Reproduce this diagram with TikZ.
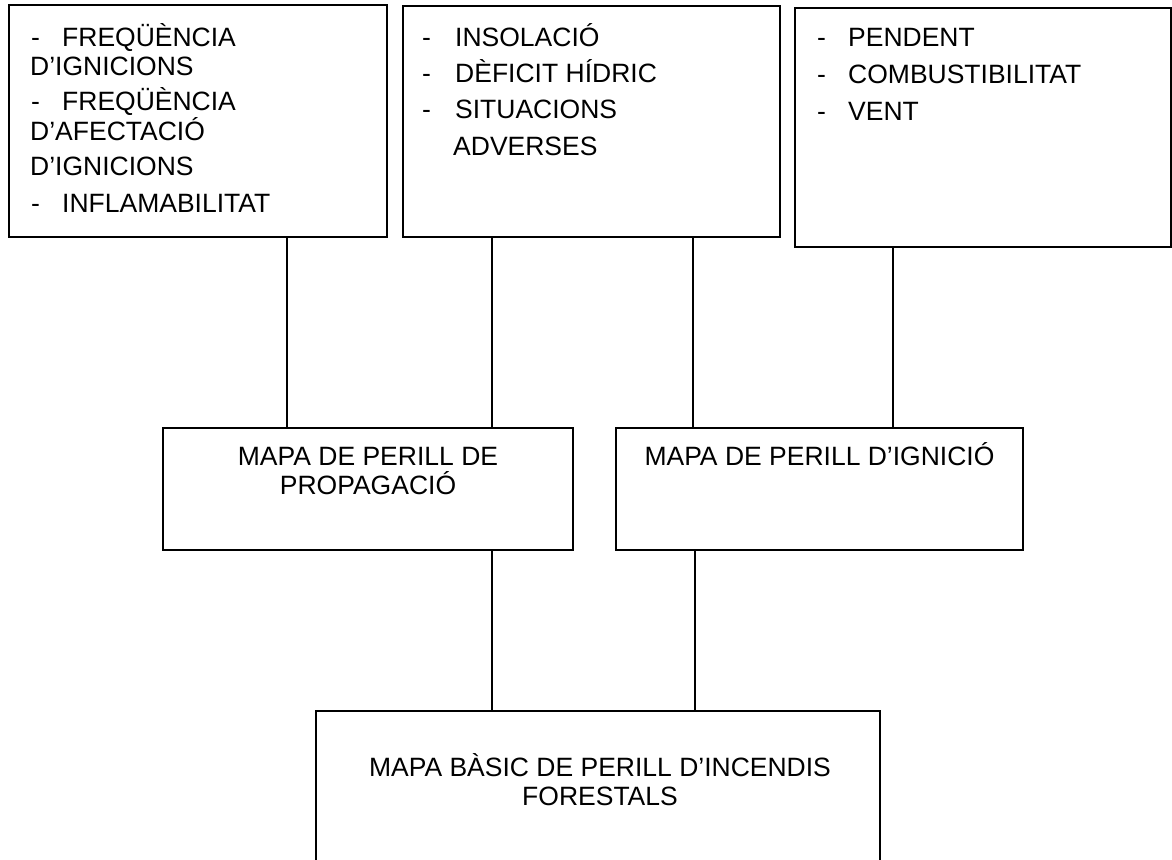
\documentclass[tikz,border=0pt]{standalone}
\usepackage{fontspec}
\setmainfont{Liberation Sans}
\begin{document}
\begin{tikzpicture}[x=1pt,y=-1pt]
\tikzset{
  box/.style={draw,line width=1.4pt,inner sep=0pt,outer sep=0pt},
  txt/.style={anchor=base west,inner sep=0pt,font=\fontsize{26.5}{30}\selectfont},
  ctxt/.style={anchor=base,inner sep=0pt,font=\fontsize{26.5}{30}\selectfont},
  link/.style={line width=1.4pt}
}
\useasboundingbox (0,0) rectangle (1172,859);
\clip (0,0) rectangle (1172,859);
% boxes
\node[box,minimum width=378pt,minimum height=232pt] (b1) at (198,121) {};
\node[box,minimum width=377pt,minimum height=231pt] (b2) at (591.5,121.5) {};
\node[box,minimum width=376pt,minimum height=239pt] (b3) at (983,127.5) {};
\node[box,minimum width=410pt,minimum height=122pt] (m1) at (368,489) {};
\node[box,minimum width=407pt,minimum height=122pt] (m2) at (819.5,489) {};
\node[box,minimum width=564pt,minimum height=300pt] (bb) at (598,861) {};
% texts box 1
\node[txt] (t11) at (31,47) {\makebox[31pt][l]{-}FREQÜÈNCIA};
\node[txt] (t12) at (30,75) {D’IGNICIONS};
\node[txt] (t13) at (31,110) {\makebox[31pt][l]{-}FREQÜÈNCIA};
\node[txt] (t14) at (30,140) {D’AFECTACIÓ};
\node[txt] (t15) at (30,175) {D’IGNICIONS};
\node[txt] (t16) at (31,212) {\makebox[31pt][l]{-}INFLAMABILITAT};
% texts box 2
\node[txt] (t21) at (422,47) {\makebox[33pt][l]{-}INSOLACIÓ};
\node[txt] (t22) at (422,82) {\makebox[33pt][l]{-}DÈFICIT HÍDRIC};
\node[txt] (t23) at (422,118) {\makebox[33pt][l]{-}SITUACIONS};
\node[txt] (t24) at (453,155) {ADVERSES};
% texts box 3
\node[txt] (t31) at (817,47) {\makebox[31pt][l]{-}PENDENT};
\node[txt] (t32) at (817,83) {\makebox[31pt][l]{-}COMBUSTIBILITAT};
\node[txt] (t33) at (817,120) {\makebox[31pt][l]{-}VENT};
% middle texts
\node[ctxt] (tm1a) at (368,465) {MAPA DE PERILL DE};
\node[ctxt] (tm1b) at (368,494) {PROPAGACIÓ};
\node[ctxt] (tm2) at (819.5,465) {MAPA DE PERILL D’IGNICIÓ};
% bottom texts
\node[ctxt] (tba) at (600,776) {MAPA BÀSIC DE PERILL D’INCENDIS};
\node[ctxt] (tbb) at (600,805) {FORESTALS};
% connector columns
\coordinate (c1) at (287,0);
\coordinate (c2) at (492,0);
\coordinate (c3) at (693,0);
\coordinate (c4) at (893,0);
\coordinate (c5) at (492,0);
\coordinate (c6) at (695,0);
\draw[link] (b1.south -| c1) -- (m1.north -| c1);
\draw[link] (b2.south -| c2) -- (m1.north -| c2);
\draw[link] (b2.south -| c3) -- (m2.north -| c3);
\draw[link] (b3.south -| c4) -- (m2.north -| c4);
\draw[link] (m1.south -| c5) -- (bb.north -| c5);
\draw[link] (m2.south -| c6) -- (bb.north -| c6);
\end{tikzpicture}
\end{document}
